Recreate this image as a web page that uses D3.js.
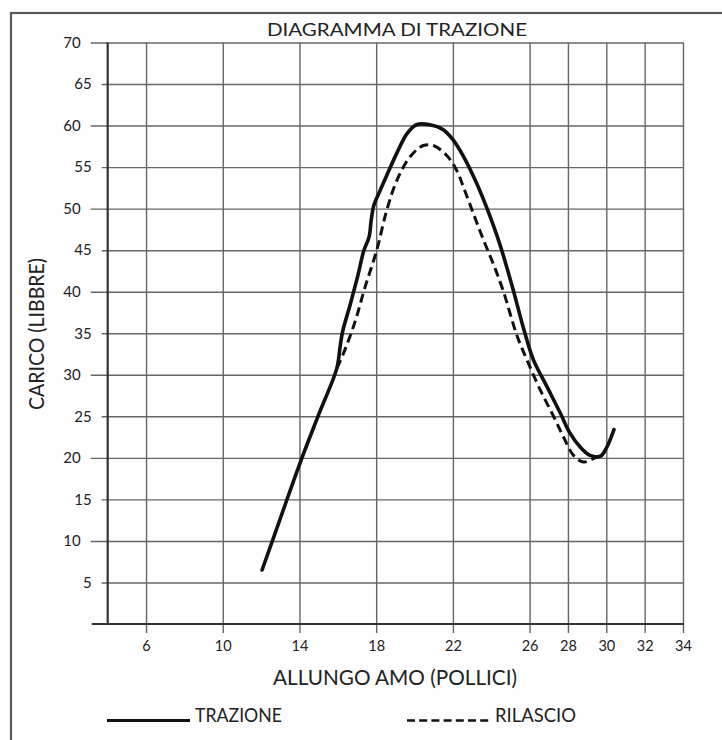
<!DOCTYPE html>
<html>
<head>
<meta charset="utf-8">
<script src="https://cdn.jsdelivr.net/npm/d3@7/dist/d3.min.js"></script>
<style>
  html, body { margin: 0; padding: 0; background: #ffffff; }
  svg { display: block; }
  text { font-family: Lato, "DejaVu Sans", sans-serif; fill: #222; }
</style>
</head>
<body>
<svg id="chart" width="722" height="740"></svg>
<script>
// ---- Data ----
const title = "DIAGRAMMA DI TRAZIONE";
const xLabel = "ALLUNGO AMO (POLLICI)";
const yLabel = "CARICO (LIBBRE)";
const seriesNames = ["TRAZIONE", "RILASCIO"];
const xTicks = [6, 10, 14, 18, 22, 26, 28, 30, 32, 34];
const yTicks = [5, 10, 15, 20, 25, 30, 35, 40, 45, 50, 55, 60, 65, 70];

// TRAZIONE (solid): [allungo, carico]
const trazione = [
  [12.05, 6.5], [13.0, 12.7], [14.0, 19.2], [15.0, 25.2], [15.95, 30.8],
  [16.12, 33.4], [16.25, 35.2], [16.65, 38.5], [17.05, 42.0], [17.35, 44.9],
  [17.63, 46.6], [17.74, 48.6], [17.88, 50.4], [18.15, 51.9], [18.55, 54.0],
  [19.1, 56.8], [19.6, 59.0], [20.1, 60.1], [20.8, 60.1], [21.5, 59.5],
  [22.0, 58.3], [22.55, 56.3], [23.25, 53.0], [23.8, 49.9], [24.45, 45.7],
  [25.1, 40.6], [25.72, 35.3], [26.2, 31.8], [26.9, 28.6], [27.6, 25.4],
  [28.1, 23.0], [28.64, 21.3], [29.15, 20.3], [29.7, 20.2], [30.03, 21.3],
  [30.4, 23.4]
];

// RILASCIO (dashed)
const rilascio = [
  [15.95, 30.8], [16.3, 32.6], [16.9, 36.4], [17.4, 40.4], [18.03, 45.0],
  [18.55, 49.8], [19.08, 53.4], [19.77, 56.25], [20.46, 57.6], [20.98, 57.6],
  [21.68, 56.4], [22.2, 54.6], [22.55, 52.6], [23.07, 49.4], [23.6, 46.2],
  [24.1, 43.4], [24.64, 40.0], [25.33, 34.8], [25.86, 31.8], [26.55, 28.2],
  [27.25, 25.0], [27.77, 22.5], [28.29, 20.3], [28.81, 19.5], [29.33, 19.9],
  [29.68, 20.3]
];

// ---- Layout ----
const svg = d3.select("#chart");
const x = d3.scaleLinear().domain([4, 34]).range([107.7, 683]);
const y = d3.scaleLinear().domain([0, 70]).range([624, 42.5]);

// background + frame
svg.append("rect").attr("width", 722).attr("height", 740).attr("fill", "#fefefe");
svg.append("rect")
  .attr("x", 11).attr("y", 13).attr("width", 800).attr("height", 800)
  .attr("fill", "none").attr("stroke", "#5a5a5a").attr("stroke-width", 2.2);

// horizontal grid (with y ticks)
const yAxis = svg.append("g")
  .attr("transform", `translate(${x(4)},0)`)
  .call(d3.axisLeft(y).tickValues(yTicks).tickSizeInner(17).tickSizeOuter(0).tickPadding(10));
yAxis.select(".domain").remove();
yAxis.selectAll(".tick line")
  .attr("stroke", "#666").attr("stroke-width", 1.4)
  .attr("x1", d => x(34) - x(4))
  .attr("x2", d => (d % 10 === 0) ? -17 : -6);
yAxis.selectAll(".tick text")
  .attr("x", d => (d % 10 === 0) ? -27 : -16)
  .style("font-size", "15px").style("font-family", "Lato, sans-serif").attr("fill", "#333");

// vertical grid (with x ticks)
const xAxis = svg.append("g")
  .attr("transform", `translate(0,${y(0)})`)
  .call(d3.axisBottom(x).tickValues(xTicks).tickSizeInner(9).tickSizeOuter(0).tickPadding(8));
xAxis.select(".domain").remove();
xAxis.selectAll(".tick line")
  .attr("stroke", "#666").attr("stroke-width", 1.4)
  .attr("y1", -(y(0) - y(70)));
xAxis.selectAll(".tick text")
  .style("font-size", "14.5px").style("font-family", "Lato, sans-serif").attr("fill", "#333");

// axis lines
svg.append("line").attr("x1", 91.7).attr("x2", 684).attr("y1", y(0)).attr("y2", y(0))
  .attr("stroke", "#333").attr("stroke-width", 2.2);
svg.append("line").attr("x1", x(4)).attr("x2", x(4)).attr("y1", y(70)).attr("y2", y(0))
  .attr("stroke", "#333").attr("stroke-width", 2.2);

// curves
const line = d3.line().x(d => x(d[0])).y(d => y(d[1])).curve(d3.curveCatmullRom.alpha(0.5));
svg.append("path").datum(rilascio).attr("d", line)
  .attr("fill", "none").attr("stroke", "#111").attr("stroke-width", 3)
  .attr("stroke-dasharray", "9,5");
svg.append("path").datum(trazione).attr("d", line)
  .attr("fill", "none").attr("stroke", "#111").attr("stroke-width", 3.6)
  .attr("stroke-linecap", "round").attr("stroke-linejoin", "round");

// texts
function fitText(sel, w) {
  sel.attr("textLength", w).attr("lengthAdjust", "spacingAndGlyphs");
}
svg.append("text").text(title)
  .attr("x", 397).attr("y", 35.5).attr("text-anchor", "middle")
  .style("font-size", "18px").call(fitText, 260);

svg.append("text").text(xLabel)
  .attr("x", 395).attr("y", 684.5).attr("text-anchor", "middle")
  .style("font-size", "21px").call(fitText, 244);

svg.append("text").text(yLabel)
  .attr("transform", "translate(43.5,334) rotate(-90)").attr("text-anchor", "middle")
  .style("font-size", "20.5px").call(fitText, 152);

// legend
svg.append("line").attr("x1", 107).attr("x2", 190).attr("y1", 720.5).attr("y2", 720.5)
  .attr("stroke", "#111").attr("stroke-width", 3);
svg.append("text").text(seriesNames[0]).attr("x", 195).attr("y", 722)
  .style("font-size", "18.5px").call(fitText, 87);
svg.append("line").attr("x1", 407).attr("x2", 490).attr("y1", 720.5).attr("y2", 720.5)
  .attr("stroke", "#111").attr("stroke-width", 2.6).attr("stroke-dasharray", "8,4.2");
svg.append("text").text(seriesNames[1]).attr("x", 495).attr("y", 722)
  .style("font-size", "18.5px").call(fitText, 81);
</script>
</body>
</html>
